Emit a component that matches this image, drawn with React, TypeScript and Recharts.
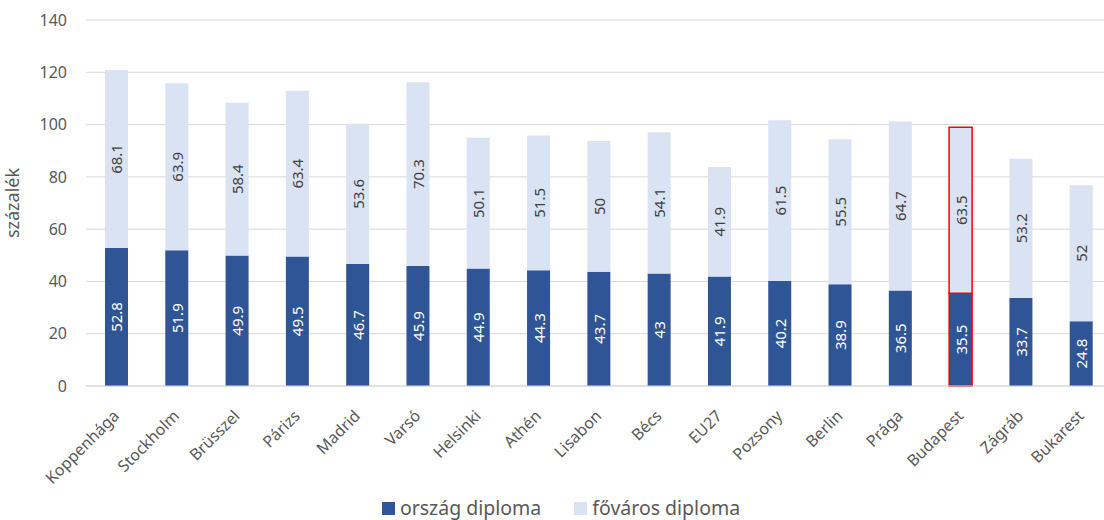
import React from "react";
import { BarChart, Bar, XAxis, YAxis, CartesianGrid, Legend, LabelList, Cell } from "recharts";

const cities = ["Koppenhága", "Stockholm", "Brüsszel", "Párizs", "Madrid", "Varsó", "Helsinki", "Athén", "Lisabon", "Bécs", "EU27", "Pozsony", "Berlin", "Prága", "Budapest", "Zágráb", "Bukarest"];
const countryValues = [52.8, 51.9, 49.9, 49.5, 46.7, 45.9, 44.9, 44.3, 43.7, 43, 41.9, 40.2, 38.9, 36.5, 35.5, 33.7, 24.8];
const capitalValues = [68.1, 63.9, 58.4, 63.4, 53.6, 70.3, 50.1, 51.5, 50, 54.1, 41.9, 61.5, 55.5, 64.7, 63.5, 53.2, 52];
const yTicks = [0, 20, 40, 60, 80, 100, 120, 140];
const highlighted = "Budapest";
const seriesNames = ["ország diploma", "főváros diploma"];

const data = cities.map((c, i) => ({ city: c, country: countryValues[i], capital: capitalValues[i] }));

const FONT = "'Noto Sans', sans-serif";
const DARK = "#2F5597";
const LIGHT = "#DAE3F3";
const TEXT = "#595959";

const XTick = (props: any) => {
  const { x, y, payload } = props;
  const ax = x + 4;
  const ay = y + 23;
  return (
    <text x={ax} y={ay} transform={`rotate(-45 ${ax} ${ay})`} textAnchor="end" fill={TEXT} fontSize={16} fontFamily={FONT}>
      {payload.value}
    </text>
  );
};

const makeBarLabel = (color: string) => (props: any) => {
  const { x, y, width, height, value } = props;
  const cx = x + width / 2;
  const cy = y + height / 2;
  return (
    <text x={cx} y={cy} transform={`rotate(-90 ${cx} ${cy})`} textAnchor="middle" dominantBaseline="central" fill={color} fontSize={15} fontFamily={FONT}>
      {value}
    </text>
  );
};

const YLabel = () => (
  <text x={19} y={203} transform="rotate(-90 19 203)" textAnchor="middle" fill={TEXT} fontSize={18} fontFamily={FONT}>
    százalék
  </text>
);

const LegendContent = () => (
  <div style={{ display: "flex", justifyContent: "center", alignItems: "center", height: 34, paddingTop: 10, boxSizing: "border-box", fontFamily: FONT, fontSize: 19.5, lineHeight: "22px", color: TEXT }}>
    {[DARK, LIGHT].map((c, i) => (
      <div key={i} style={{ display: "flex", alignItems: "center", marginLeft: i === 0 ? 0 : 33 }}>
        <span style={{ display: "inline-block", width: 13, height: 13, background: c, marginRight: 5 }} />
        <span>{seriesNames[i]}</span>
      </div>
    ))}
  </div>
);

export default function App() {
  return (
    <div style={{ position: "absolute", left: 0, top: 0, width: 1104, height: 520, overflow: "hidden", background: "#fff" }}>
      <BarChart width={1120} height={520} data={data} margin={{ top: 20, right: 9, left: 0, bottom: 0 }} barSize={23}>
        <CartesianGrid vertical={false} stroke="#D9D9D9" />
        <XAxis dataKey="city" interval={0} height={100} tick={<XTick />} tickLine={false} axisLine={{ stroke: "#D9D9D9" }} />
        <YAxis width={86} domain={[0, 140]} ticks={yTicks} tickLine={false} axisLine={false} tickSize={0} tickMargin={19}
          tick={{ fill: TEXT, fontSize: 16, fontFamily: FONT }} label={{ content: YLabel }} />
        <Legend verticalAlign="bottom" content={<LegendContent />} wrapperStyle={{ left: 0, width: 1122, height: 34, bottom: 0 }} />
        <Bar dataKey="country" stackId="a" fill={DARK} isAnimationActive={false} name={seriesNames[0]}>
          {data.map((d, i) => (
            <Cell key={i} stroke={d.city === highlighted ? "#FF0000" : undefined} strokeWidth={d.city === highlighted ? 1.5 : 0} />
          ))}
          <LabelList dataKey="country" content={makeBarLabel("#FFFFFF")} />
        </Bar>
        <Bar dataKey="capital" stackId="a" fill={LIGHT} isAnimationActive={false} name={seriesNames[1]}>
          {data.map((d, i) => (
            <Cell key={i} stroke={d.city === highlighted ? "#FF0000" : undefined} strokeWidth={d.city === highlighted ? 1.5 : 0} />
          ))}
          <LabelList dataKey="capital" content={makeBarLabel("#404040")} />
        </Bar>
      </BarChart>
    </div>
  );
}
